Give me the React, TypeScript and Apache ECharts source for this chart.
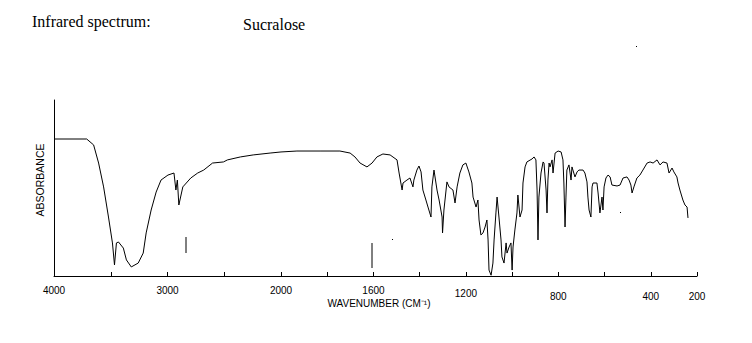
import React, { useEffect, useRef } from "react";
import * as echarts from "echarts";

// Wavenumber (cm-1) and relative trace height (0 = bottom of frame), 4000–2000 section
const wnHigh = [4000, 3712, 3651, 3607, 3563, 3520, 3485, 3467, 3450, 3432, 3389, 3362, 3319, 3258, 3214, 3188, 3144, 3100, 3057, 2996, 2943, 2926, 2913, 2900, 2865, 2795, 2734, 2681, 2603, 2507, 2472, 2358, 2245, 2096, 2000];
const absHigh = [87.8, 87.8, 84.0, 72.4, 57.1, 37.8, 21.2, 7.1, 21.2, 21.8, 17.9, 10.3, 5.8, 8.3, 14.7, 27.6, 42.3, 53.8, 61.5, 64.7, 66.0, 55.1, 61.5, 45.5, 57.1, 62.8, 66.0, 67.9, 72.4, 73.1, 74.4, 76.3, 77.6, 78.8, 79.5];

// 2000–200 section
const wnLow = [2000, 1931, 1831, 1745, 1701, 1680, 1658, 1628, 1606, 1585, 1559, 1528, 1498, 1489, 1476, 1472, 1455, 1442, 1429, 1425, 1412, 1403, 1394, 1386, 1373, 1364, 1351, 1347, 1338, 1325, 1316, 1303, 1301, 1295, 1282, 1273, 1256, 1247, 1238, 1226, 1213, 1200, 1187, 1174, 1169, 1156, 1148, 1143, 1135, 1126, 1117, 1109, 1104, 1100, 1091, 1083, 1078, 1070, 1065, 1057, 1048, 1044, 1035, 1026, 1022, 1013, 1005, 1000, 996, 988, 979, 975, 966, 957, 953, 944, 936, 914, 905, 897, 892, 888, 884, 875, 866, 862, 853, 849, 845, 840, 836, 827, 823, 814, 801, 788, 780, 776, 771, 767, 763, 754, 745, 741, 728, 719, 711, 693, 685, 676, 672, 667, 659, 654, 650, 633, 628, 620, 611, 607, 602, 594, 585, 576, 568, 546, 533, 520, 503, 494, 486, 481, 473, 460, 447, 434, 416, 403, 390, 373, 360, 347, 330, 321, 308, 300, 287, 282, 274, 261, 252, 243, 239];
const absLow = [79.5, 80.1, 80.1, 80.1, 78.8, 76.3, 72.4, 69.9, 72.4, 76.3, 78.2, 77.6, 74.4, 66.0, 55.1, 59.6, 61.5, 62.8, 57.1, 61.5, 67.9, 70.5, 66.7, 55.1, 48.7, 44.2, 37.8, 57.1, 67.9, 55.1, 48.7, 37.8, 27.6, 42.3, 60.3, 57.1, 55.1, 46.8, 57.1, 66.0, 71.2, 72.4, 66.7, 59.6, 50.6, 44.2, 48.7, 35.9, 26.3, 27.6, 31.4, 35.9, 23.1, 3.8, 0.5, 8.3, 23.1, 40.4, 50.6, 37.8, 23.1, 12.2, 8.3, 21.2, 14.7, 18.6, 21.2, 3.8, 18.6, 29.5, 40.4, 51.9, 37.8, 42.3, 59.6, 69.9, 73.1, 75.0, 76.3, 74.4, 55.1, 23.1, 50.6, 66.0, 73.1, 72.4, 55.1, 40.4, 61.5, 72.4, 69.9, 74.4, 66.0, 78.8, 80.1, 79.5, 74.4, 59.6, 31.4, 50.6, 67.9, 71.2, 61.5, 69.9, 63.5, 66.7, 67.9, 67.9, 66.0, 60.3, 50.6, 42.3, 37.8, 57.1, 59.6, 59.6, 53.2, 40.4, 50.6, 42.3, 57.1, 62.8, 64.7, 63.5, 58.3, 57.7, 58.3, 62.8, 63.5, 61.5, 58.3, 53.2, 57.1, 62.8, 64.7, 67.9, 72.4, 73.1, 72.4, 74.4, 71.2, 73.1, 72.4, 66.0, 69.2, 66.7, 63.5, 59.6, 55.1, 48.7, 45.5, 44.2, 37.2];

const highTicks = [4000, 3000];
const lowTicks = [2000, 1600, 1200, 800, 400, 200];
const droppedTicks = [800, 400, 200];

export default function App() {
  const ref = useRef<HTMLDivElement>(null);
  useEffect(() => {
    document.body.style.margin = "0";
    const chart = echarts.init(ref.current!, null, { renderer: "svg" });
    const Y_MAX = 112.8;
    const labelStyle = {
      color: "#000",
      fontSize: 10,
      fontFamily: "Liberation Sans, Arial, sans-serif",
      margin: 9,
      rich: {
        lo: { fontSize: 10, fontFamily: "Liberation Sans, Arial, sans-serif", color: "#000", padding: [6, 0, 0, 0] },
        mid: { fontSize: 10, fontFamily: "Liberation Sans, Arial, sans-serif", color: "#000", padding: [3, 0, 0, 0] },
      },
    };
    chart.setOption({
      animation: false,
      backgroundColor: "#fff",
      grid: [
        { left: 54, top: 100, width: 227, height: 176 },
        { left: 281, top: 100, width: 416, height: 176 },
      ],
      xAxis: [
        {
          gridIndex: 0, type: "value", min: 2000, max: 4000, interval: 500, inverse: true,
          axisLine: { lineStyle: { color: "#000", width: 1 } },
          axisTick: { inside: true, length: 4, lineStyle: { color: "#000" } },
          splitLine: { show: false },
          axisLabel: { ...labelStyle, formatter: (v: number) => (highTicks.includes(v) ? String(v) : "") },
        },
        {
          gridIndex: 1, type: "value", min: 200, max: 2000, interval: 200, inverse: true,
          axisLine: { lineStyle: { color: "#000", width: 1 } },
          axisTick: { inside: true, length: 4, lineStyle: { color: "#000" } },
          splitLine: { show: false },
          axisLabel: {
            ...labelStyle,
            formatter: (v: number) => {
              if (!lowTicks.includes(v)) return "";
              if (droppedTicks.includes(v)) return `{lo|${v}}`;
              if (v === 1200) return `{mid|${v}}`;
              return String(v);
            },
          },
        },
      ],
      yAxis: [
        {
          gridIndex: 0, type: "value", min: 0, max: Y_MAX,
          axisLine: { show: true, lineStyle: { color: "#000", width: 1 } },
          axisTick: { show: false }, axisLabel: { show: false }, splitLine: { show: false },
        },
        {
          gridIndex: 1, type: "value", min: 0, max: Y_MAX, show: false,
          splitLine: { show: false },
        },
      ],
      series: [
        {
          type: "line", xAxisIndex: 0, yAxisIndex: 0, showSymbol: false,
          lineStyle: { color: "#000", width: 1 },
          data: wnHigh.map((w, i) => [w, absHigh[i]]),
        },
        {
          type: "line", xAxisIndex: 1, yAxisIndex: 1, showSymbol: false,
          lineStyle: { color: "#000", width: 1 },
          data: wnLow.map((w, i) => [w, absLow[i]]),
        },
      ],
      graphic: [
        {
          type: "text", left: 32, top: 13,
          style: { text: "Infrared spectrum:", fontSize: 16, fontFamily: "Liberation Serif, Times New Roman, serif", fill: "#000" },
        },
        {
          type: "text", left: 243, top: 16,
          style: { text: "Sucralose", fontSize: 16, fontFamily: "Liberation Serif, Times New Roman, serif", fill: "#000" },
        },
        {
          type: "text", x: 40, y: 180, rotation: Math.PI / 2,
          style: { text: "ABSORBANCE", fontSize: 10.5, fontFamily: "Liberation Sans, Arial, sans-serif", fill: "#000", align: "center", verticalAlign: "middle" },
        },
        {
          type: "text", x: 379, y: 303,
          style: { text: "WAVENUMBER (CM⁻¹)", fontSize: 10, fontFamily: "Liberation Sans, Arial, sans-serif", fill: "#000", align: "center", verticalAlign: "middle" },
        },
        { type: "line", shape: { x1: 186, y1: 237, x2: 186, y2: 253 }, style: { stroke: "#000", lineWidth: 1 } },
        { type: "line", shape: { x1: 372, y1: 243, x2: 372, y2: 268 }, style: { stroke: "#000", lineWidth: 1 } },
        { type: "rect", shape: { x: 636, y: 46, width: 1, height: 1 }, style: { fill: "#000" } },
        { type: "rect", shape: { x: 392, y: 239, width: 1, height: 1 }, style: { fill: "#000" } },
        { type: "rect", shape: { x: 620, y: 212, width: 1, height: 1 }, style: { fill: "#000" } },
      ],
    });
    return () => chart.dispose();
  }, []);
  return <div ref={ref} style={{ width: 752, height: 343 }} />;
}
